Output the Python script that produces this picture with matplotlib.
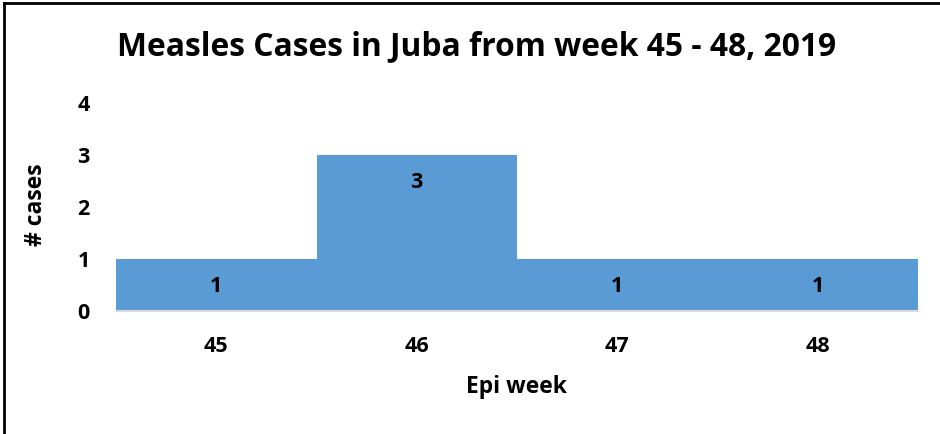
import matplotlib
matplotlib.use("Agg")
import matplotlib.pyplot as plt
from matplotlib.lines import Line2D

weeks = ["45", "46", "47", "48"]
cases = [1, 3, 1, 1]
yticks = [0, 1, 2, 3, 4]

title = "Measles Cases in Juba from week 45 - 48, 2019"
xlabel = "Epi week"
ylabel = "# cases"

bar_color = "#5B9BD5"
font = ["Open Sans", "DejaVu Sans"]
fs = 15.5

fig = plt.figure(figsize=(9.4, 4.34), dpi=100)
ax = fig.add_axes([116/940, 1 - 311/434, (918 - 116)/940, (311 - 103)/434])

x = list(range(len(weeks)))
ax.bar(x, cases, width=1.0, color=bar_color, edgecolor="none", zorder=2)
ax.set_xlim(-0.5, len(weeks) - 0.5)
ax.set_ylim(0, 4)
ax.set_yticks(yticks)
ax.set_yticklabels([str(v) for v in yticks], fontsize=fs, fontweight="bold", family=font)
ax.set_xticks(x)
ax.set_xticklabels(weeks, fontsize=fs, fontweight="bold", family=font)
ax.tick_params(axis="both", length=0)
ax.tick_params(axis="x", pad=18)
ax.tick_params(axis="y", pad=19)
for s in ["top", "right", "left"]:
    ax.spines[s].set_visible(False)
ax.spines["bottom"].set_color("#D9D9D9")
ax.spines["bottom"].set_linewidth(1.5)
ax.spines["bottom"].set_zorder(3)

for xi, v in zip(x, cases):
    ax.annotate(str(v), (xi, v), xytext=(0, -28), textcoords="offset pixels",
                ha="center", va="center", fontsize=fs, fontweight="bold", family=font)

ax.set_xlabel(xlabel, fontsize=16.5, fontweight="bold", family=font)
ax.xaxis.set_label_coords(0.5, -(387 - 311) / 208)
ax.xaxis.label.set_va("center")
ax.set_ylabel(ylabel, fontsize=16.5, fontweight="bold", family=font)
ax.yaxis.set_label_coords(-(116 - 36) / 802, (311 - 205) / 208)
ax.yaxis.label.set_va("center")

fig.text(476.5/940, 1 - 47/434, title, ha="center", va="center",
         fontsize=22.9, fontweight="bold", family=font)

# border (top and left)
fig.add_artist(Line2D([3.5/940, 3.5/940], [0, 1 - 2.5/434], transform=fig.transFigure,
                      color="black", linewidth=2))
fig.add_artist(Line2D([3.5/940, 1], [1 - 2.5/434, 1 - 2.5/434], transform=fig.transFigure,
                      color="black", linewidth=2))

fig.savefig("out.png", dpi=100)
